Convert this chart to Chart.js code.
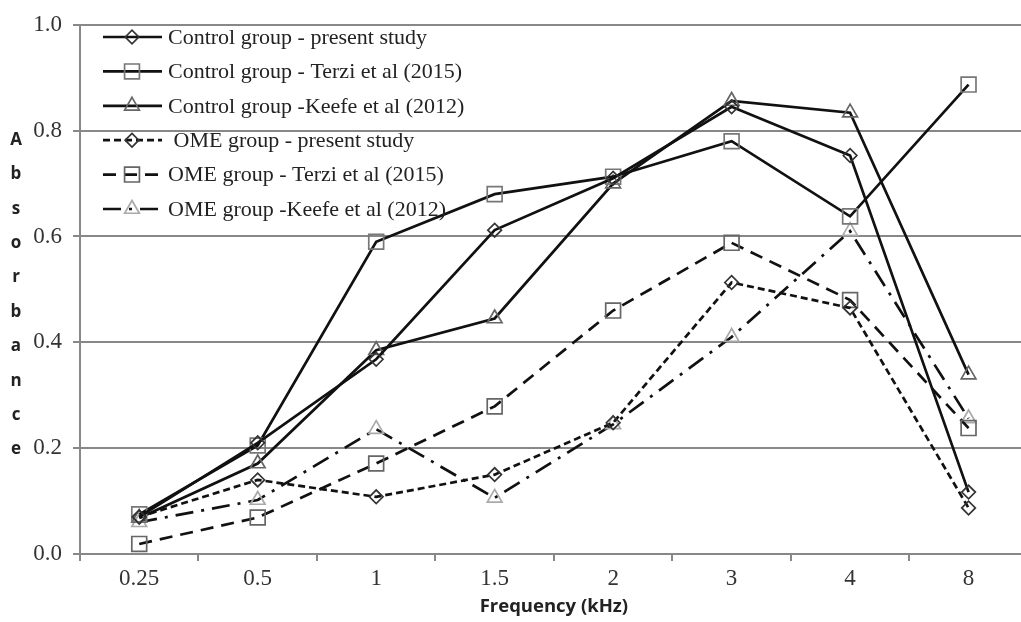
<!DOCTYPE html>
<html>
<head>
<meta charset="utf-8">
<script src="https://cdn.jsdelivr.net/npm/chart.js@4.4.1/dist/chart.umd.min.js"></script>
<style>
  html, body { margin: 0; padding: 0; background: #fff; overflow: hidden; }
  #wrap { width: 1040px; height: 622px; }
</style>
</head>
<body>
<div id="wrap"><canvas id="absChart" width="1040" height="622"></canvas></div>
<script>
// Frequencies (kHz) on the x axis
const categories = ['0.25', '0.5', '1', '1.5', '2', '3', '4', '8'];

// Absorbance values
const controlPresent = [0.07, 0.21, 0.368, 0.612, 0.71, 0.845, 0.753, 0.117];
const controlTerzi   = [0.075, 0.205, 0.59, 0.68, 0.713, 0.78, 0.638, 0.887];
const controlKeefe   = [0.068, 0.171, 0.385, 0.445, 0.70, 0.856, 0.834, 0.339];
const omePresent     = [0.07, 0.14, 0.108, 0.15, 0.248, 0.513, 0.465, 0.087];
const omeTerzi       = [0.019, 0.069, 0.171, 0.279, 0.46, 0.588, 0.48, 0.238];
const omeKeefe       = [0.06, 0.102, 0.236, 0.106, 0.245, 0.41, 0.61, 0.256];

// Y tick labels
const yTicks = ['0.0', '0.2', '0.4', '0.6', '0.8', '1.0'];

const seriesLabels = [
    'Control group - present study',
    'Control group - Terzi et al (2015)',
    'Control group -Keefe et al (2012)',
    ' OME group - present study',
    'OME group - Terzi et al (2015)',
    'OME group -Keefe et al (2012)'
];

const yTitle = 'Absorbance';

function makeSet(label, data, style, markerColor, radius, dash) {
    return {
        label: label,
        data: data,
        borderColor: '#111',
        borderWidth: 2.7,
        borderDash: dash,
        fill: false,
        tension: 0,
        pointStyle: style,
        pointRadius: radius,
        pointHoverRadius: radius,
        pointBorderColor: markerColor,
        pointBackgroundColor: 'rgba(0,0,0,0)',
        pointBorderWidth: 1.7
    };
}

// Legend drawn by hand so each entry shows its own line style and marker
const sketchLegend = {
    id: 'sketchLegend',
    afterDatasetsDraw(chart) {
        const ctx = chart.ctx;
        ctx.save();
        chart.data.datasets.forEach((ds, i) => {
            const y = 37 + i * 34.4;
            ctx.beginPath();
            ctx.setLineDash(ds.borderDash || []);
            ctx.lineWidth = ds.borderWidth;
            ctx.strokeStyle = ds.borderColor;
            ctx.moveTo(103, y);
            ctx.lineTo(162, y);
            ctx.stroke();
            ctx.setLineDash([]);
            ctx.strokeStyle = ds.pointBorderColor;
            ctx.fillStyle = 'rgba(0,0,0,0)';
            ctx.lineWidth = ds.pointBorderWidth;
            Chart.helpers.drawPoint(ctx, {
                pointStyle: ds.pointStyle,
                radius: ds.pointRadius,
                rotation: 0,
                borderWidth: ds.pointBorderWidth
            }, 132, y);
            ctx.fillStyle = '#222';
            ctx.font = '22px "Liberation Serif", serif';
            ctx.textAlign = 'left';
            ctx.textBaseline = 'middle';
            ctx.fillText(ds.label, 168, y + 1);
        });

        // stacked y axis title
        ctx.font = 'bold 17px "Open Sans", "Liberation Sans", sans-serif';
        ctx.textAlign = 'center';
        ctx.fillStyle = '#222';
        yTitle.split('').forEach((ch, i) => {
            ctx.fillText(ch, 16, 140 + i * 34.4);
        });
        ctx.restore();
    }
};

document.addEventListener('DOMContentLoaded', function() {
    const ctx = document.getElementById('absChart');

    new Chart(ctx, {
        type: 'line',
        data: {
            labels: categories,
            datasets: [
                makeSet(seriesLabels[0], controlPresent, 'rectRot', '#333', 6.8, []),
                makeSet(seriesLabels[1], controlTerzi, 'rect', '#777', 10.5, []),
                makeSet(seriesLabels[2], controlKeefe, 'triangle', '#666', 8.5, []),
                makeSet(seriesLabels[3], omePresent, 'rectRot', '#333', 6.8, [7, 4]),
                makeSet(seriesLabels[4], omeTerzi, 'rect', '#666', 10.5, [13, 8]),
                makeSet(seriesLabels[5], omeKeefe, 'triangle', '#aaa', 8.5, [18, 8, 3, 8])
            ]
        },
        options: {
            responsive: false,
            animation: false,
            layout: { padding: { top: 18, right: 8, bottom: 0, left: 0 } },
            plugins: {
                legend: { display: false },
                tooltip: { enabled: false }
            },
            scales: {
                x: {
                    offset: true,
                    grid: {
                        offset: true,
                        drawOnChartArea: false,
                        drawTicks: true,
                        tickLength: 7,
                        color: '#888',
                        lineWidth: 2
                    },
                    border: { color: '#888', width: 2 },
                    ticks: {
                        color: '#333',
                        padding: 4,
                        font: { family: '"Liberation Serif", serif', size: 23 }
                    },
                    title: {
                        display: true,
                        text: 'Frequency (kHz)',
                        color: '#222',
                        padding: { top: 0, bottom: 4 },
                        font: { family: '"Open Sans", "Liberation Sans", sans-serif', size: 18.5, weight: 'bold' }
                    },
                    afterFit: function(scale) { scale.height = 68; }
                },
                y: {
                    min: 0,
                    max: 1,
                    ticks: {
                        stepSize: 0.2,
                        color: '#333',
                        padding: 11,
                        font: { family: '"Liberation Serif", serif', size: 23 },
                        callback: function(value, index) { return yTicks[index]; }
                    },
                    grid: {
                        color: '#888',
                        lineWidth: 2,
                        tickLength: 7
                    },
                    border: { color: '#888', width: 2 },
                    afterFit: function(scale) { scale.width = 80; }
                }
            }
        },
        plugins: [sketchLegend]
    });
});
</script>
</body>
</html>
